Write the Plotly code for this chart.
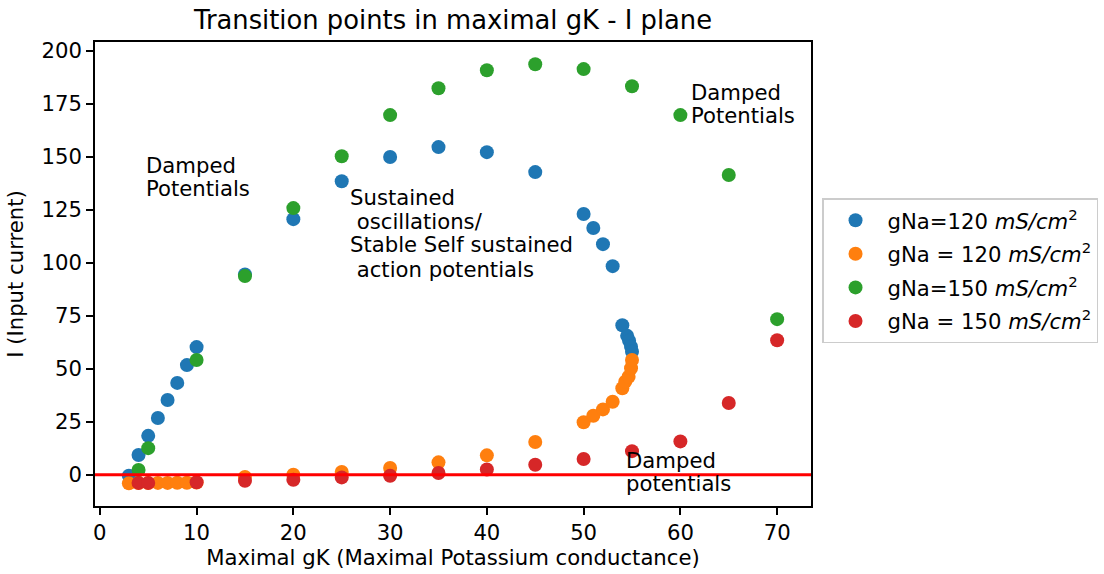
import plotly.graph_objects as go

# Maximal potassium conductance (gK) and input current (I) at transition points
gk_na120_a = [3, 4, 5, 6, 7, 8, 9, 10, 15, 20, 25, 30, 35, 40, 45,
              50, 51, 52, 53, 54, 54.5, 54.7, 54.9, 55.0]
i_na120_a = [-0.5, 9.3, 18.3, 26.7, 35.2, 43.3, 51.7, 60.2, 94.5, 120.6, 138.5,
             149.9, 154.6, 152.2, 142.8, 123.0, 116.4, 108.8, 98.4,
             70.5, 65.5, 63.2, 60.4, 58.0]

gk_na120_b = [3, 4, 5, 6, 7, 8, 9, 10, 15, 20, 25, 30, 35, 40, 45,
              50, 51, 52, 53, 54, 54.3, 54.65, 54.9, 55.0]
i_na120_b = [-4.1, -4.0, -4.0, -3.9, -3.9, -3.8, -3.8, -3.7, -1.1, 0.0, 1.3,
             3.1, 5.8, 9.1, 15.4, 24.7, 27.8, 30.8, 34.4, 40.8, 43.9, 46.2,
             50.2, 54.1]

gk_na150_a = [4, 5, 10, 15, 20, 25, 30, 35, 40, 45, 50, 55, 60, 65, 70]
i_na150_a = [2.2, 12.5, 54.1, 93.7, 125.8, 150.3, 169.7, 182.4, 190.9, 193.7,
             191.4, 183.3, 169.7, 141.4, 73.4]

gk_na150_b = [4, 5, 10, 15, 20, 25, 30, 35, 40, 45, 50, 55, 60, 65, 70]
i_na150_b = [-3.9, -3.9, -3.6, -2.9, -2.4, -1.3, -0.5, 0.8, 2.4, 4.7, 7.4,
             11.1, 15.7, 33.8, 63.4]

series_names = [
    "gNa=120 <i>mS/cm</i><sup>2</sup>",
    "gNa = 120 <i>mS/cm</i><sup>2</sup>",
    "gNa=150 <i>mS/cm</i><sup>2</sup>",
    "gNa = 150 <i>mS/cm</i><sup>2</sup>",
]
series_colors = ["#1f77b4", "#ff7f0e", "#2ca02c", "#d62728"]
series_x = [gk_na120_a, gk_na120_b, gk_na150_a, gk_na150_b]
series_y = [i_na120_a, i_na120_b, i_na150_a, i_na150_b]

x_ticks = [0, 10, 20, 30, 40, 50, 60, 70]
y_ticks = [0, 25, 50, 75, 100, 125, 150, 175, 200]

# Region labels: (lines, x, y of each line's centre)
region_labels = [
    (["Damped", "Potentials"], 4.55, [146.1, 135.2]),
    (["Sustained", "\u00a0oscillations/", "Stable Self sustained",
      "\u00a0action potentials"], 25.65, [131.0, 119.7, 108.4, 97.0]),
    (["Damped", "Potentials"], 60.9, [180.5, 169.7]),
    (["Damped", "potentials"], 54.2, [6.9, -4.4]),
]

FONT = "DejaVu Sans"
FS = 21.2

fig = go.Figure()
for name, xs, ys, color in zip(series_names, series_x, series_y, series_colors):
    fig.add_trace(go.Scatter(
        x=xs, y=ys, mode="markers", name=name, legendgroup=name,
        marker=dict(size=14, color=color, line=dict(width=0)),
    ))

# I = 0 reference line across the whole axis
fig.add_shape(type="line", xref="x domain", yref="y", x0=0, x1=1, y0=0, y1=0,
              line=dict(color="#ff0000", width=3), layer="above")

for lines, x, ys in region_labels:
    for text, y in zip(lines, ys):
        fig.add_annotation(x=x, y=y, xref="x", yref="y", text=text,
                           showarrow=False, xanchor="left", yanchor="middle",
                           font=dict(family=FONT, size=FS, color="black"))

axis_common = dict(
    showline=True, linecolor="black", linewidth=1.6, mirror=True,
    showgrid=False, zeroline=False, ticks="outside", ticklen=7, tickwidth=1.6,
    tickcolor="black", tickfont=dict(family=FONT, size=FS, color="black"),
    automargin=False,
)

fig.update_layout(
    width=1104, height=574,
    margin=dict(l=95, r=293, t=42, b=68, autoexpand=False),
    paper_bgcolor="white", plot_bgcolor="white",
    title=dict(text="Transition points in maximal gK - I plane",
               x=0.5, xref="paper", y=1 - 20 / 574, yanchor="middle",
               font=dict(family=FONT, size=25.8, color="black")),
    xaxis=dict(range=[-0.5, 73.5], tickvals=x_ticks,
               title=dict(text="Maximal gK (Maximal Potassium conductance)",
                          font=dict(family=FONT, size=FS, color="black"),
                          standoff=6),
               **axis_common),
    yaxis=dict(range=[-14.8, 204.2], tickvals=y_ticks,
               title=dict(text="I (Input current)",
                          font=dict(family=FONT, size=FS, color="black"),
                          standoff=12),
               **axis_common),
    legend=dict(x=1.0154, xanchor="left", y=0.5065, yanchor="middle",
                font=dict(family=FONT, size=FS, color="black"),
                bordercolor="#cccccc", borderwidth=1.5, bgcolor="white",
                tracegroupgap=3, itemwidth=54),
    showlegend=True,
)

fig.write_html("out.html")
